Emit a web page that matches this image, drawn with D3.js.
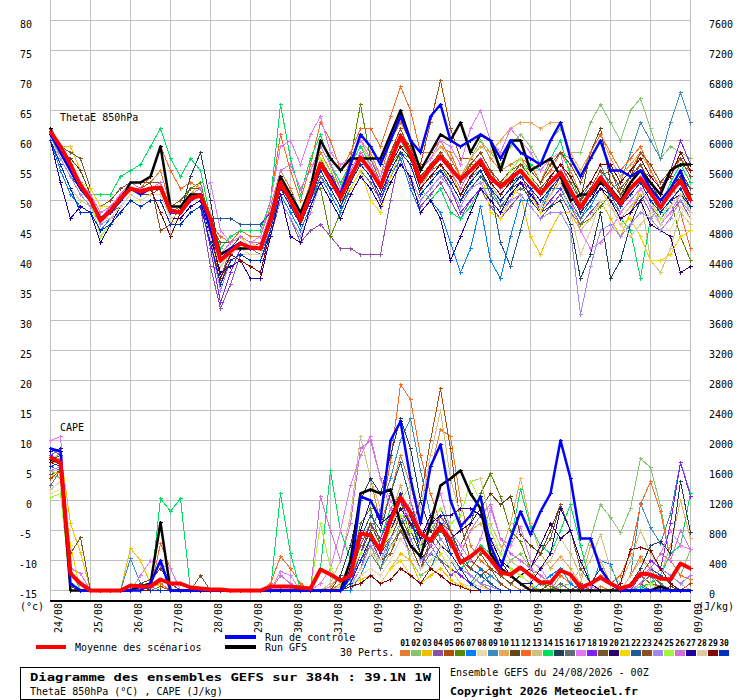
<!DOCTYPE html>
<html><head><meta charset="utf-8">
<script src="https://cdn.jsdelivr.net/npm/d3@7"></script>
<style>
body{margin:0;background:#fff;}
svg{display:block;font-family:"DejaVu Sans Mono",monospace;}
</style></head><body>
<svg id="c" width="740" height="700"></svg>
<script>
const dates = ["24/08","25/08","26/08","27/08","28/08","29/08","30/08","31/08","01/09","02/09","03/09","04/09","05/09","06/09","07/09","08/09","09/09"];
const thetaTicks = [-15,-10,-5,0,5,10,15,20,25,30,35,40,45,50,55,60,65,70,75,80];
const capeTicks = [0,400,800,1200,1600,2000,2400,2800,3200,3600,4000,4400,4800,5200,5600,6000,6400,6800,7200,7600];
const pertLabels = ["01","02","03","04","05","06","07","08","09","10","11","12","13","14","15","16","17","18","19","20","21","22","23","24","25","26","27","28","29","30"];
const pertColors = ["#e67e30","#86c46e","#f0c000","#8c50a8","#b04c08","#588a00","#0080ff","#e8d8b0","#3c8cc0","#e8a858","#604818","#f86820","#d0c080","#00e060","#204058","#607078","#e078f8","#8020f8","#785828","#300070","#f0d800","#205898","#8c5020","#a088f0","#a0f838","#d070d8","#2000a0","#e0c8a0","#800808","#0030c0"];

const thetaMean = [61.5,59,56,52.5, 50.2,46.7,48.3,50.3, 52,51.5,52,52.2, 48.3,48,50.3,50.8, 47,40,41.5,42.8, 42.2,42,46.7,53, 50,46.7,51.2,56.2, 53.3,50.5,53.8,57.2, 55,52.3,56.7,60.7, 57.8,53.2,55.5,57.3, 55.3,53.5,55,56.7, 53.8,52.3,53.7,55, 53,51.2,53,54.7, 51.7,48.8,51.3,53.8, 51.7,49.5,52,53.7, 51.3,48.8,51.3,53.3, 50];
const thetaCtrl = [61,58,55,52, 50,47,48,50, 52,51,52,52, 48,48,50,51, 45,40,42,43, 42,42,47,53, 50,47,51,56, 54,51,56,61, 59,56,60,64, 60,58,64,66, 60,59,60,61, 60,57,60,58, 57,56,60,63, 57,54,57,60, 55,55,54,55, 52,50,52,55, 50];
const thetaGfs = [62,58,55,52, 50,47,48,50, 53,53,54,59, 49,49,51,51, 47,41,42,42, 42,42,47,54, 51,48,52,60, 57,55,57,57, 57,57,61,65, 60,55,58,61, 60,63,58,61, 60,55,60,60, 55,56,57,54, 50,51,51,53, 52,50,53,55, 53,51,55,56, 56];
const thetaPerts = [
[62,59,56,53, 51,48,49,51, 53,52,53,55, 49,50,52,52, 46,41,43,44, 43,44,49,55, 52,48,53,58, 55,52,57,60, 58,54,60,63, 60,55,57,59, 58,54,57,60, 57,55,56,57, 55,53,57,58, 55,51,53,56, 56,53,55,58, 55,52,54,57, 55],
[61,57,54,51, 49,46,47,49, 51,50,51,51, 47,47,49,50, 44,39,41,42, 41,41,46,52, 49,46,50,55, 52,49,53,56, 54,51,56,59, 57,52,55,58, 56,53,57,60, 58,56,59,61, 59,56,60,62, 58,58,63,66, 63,60,65,67, 62,57,59,58, 57],
[62,59,59,55, 51,48,49,50, 53,52,52,52, 47,48,51,53, 46,41,43,44, 42,42,48,54, 50,47,52,57, 54,50,56,59, 57,53,58,61, 59,54,56,58, 55,51,54,57, 53,50,52,51, 44,41,45,48, 48,45,47,50, 47,44,48,52, 49,46,48,50, 48],
[61,57,54,51, 49,46,47,48, 50,49,50,50, 46,46,48,49, 39,32,36,41, 40,40,44,50, 47,43,45,46, 44,42,42,41, 41,41,50,58, 53,49,51,53, 50,47,50,52, 49,47,49,51, 49,47,49,51, 48,46,48,50, 49,47,48,51, 48,46,48,50, 47],
[62,58,56,52, 50,47,48,51, 52,52,52,53, 48,48,50,51, 44,36,41,42, 42,43,47,53, 51,48,52,57, 55,51,54,58, 56,53,58,62, 58,56,63,70, 62,57,57,56, 55,52,53,55, 50,48,51,54, 52,48,51,54, 55,51,53,56, 52,49,53,56, 55],
[62,58,55,52, 50,47,48,50, 52,51,52,52, 48,49,52,53, 46,41,42,43, 42,42,47,53, 50,46,51,52, 44,48,57,66, 57,53,56,58, 57,53,55,56, 53,50,52,54, 52,50,52,53, 50,48,50,52, 49,46,47,49, 51,49,51,53, 51,48,50,44, 40],
[60,55,51,49, 48,45,47,49, 51,50,51,51, 47,47,49,50, 44,39,41,42, 41,41,45,51, 48,45,49,54, 51,48,52,55, 53,50,54,57, 52,48,50,48, 43,38,42,49, 40,37,44,50, 50,48,52,52, 49,47,49,52, 50,48,50,52, 49,47,49,51, 48],
[61,57,54,51, 49,45,46,48, 50,49,50,50, 46,47,49,50, 43,38,40,41, 41,41,46,52, 49,46,50,55, 52,49,53,56, 54,51,55,58, 56,52,54,56, 54,51,53,56, 53,51,53,54, 52,50,52,54, 51,47,50,52, 51,48,50,52, 50,46,45,49, 47],
[62,58,55,52, 50,47,48,50, 52,51,52,52, 48,48,50,51, 45,40,42,43, 42,42,47,53, 50,47,51,56, 53,50,54,57, 55,52,56,59, 57,52,54,56, 54,51,54,55, 52,49,50,53, 52,49,52,54, 53,50,53,56, 52,53,58,63, 60,57,63,68, 63],
[62,59,56,53, 51,48,49,51, 53,52,53,53, 49,49,51,52, 46,41,43,44, 43,43,48,54, 51,48,52,57, 54,51,55,58, 56,53,58,61, 59,55,57,59, 57,54,57,59, 58,60,62,63, 63,62,63,63, 58,55,58,61, 57,54,56,58, 55,52,55,57, 54],
[61,58,57,55, 51,48,49,50, 52,51,51,52, 48,48,50,51, 45,40,42,44, 43,43,48,54, 51,48,52,57, 54,51,55,58, 56,53,57,60, 58,54,56,58, 56,53,56,58, 55,53,55,56, 54,52,54,56, 54,50,58,62, 53,51,53,55, 52,50,52,54, 51],
[62,58,55,52, 50,47,48,50, 52,52,54,59, 55,52,53,52, 46,44,43,45, 44,44,50,61, 55,50,56,63, 60,55,58,62, 62,59,64,69, 65,58,58,60, 57,54,56,58, 55,53,55,57, 56,53,55,58, 57,54,58,61, 58,55,57,59, 55,52,54,48, 42],
[61,56,52,50, 49,46,47,49, 51,50,51,51, 47,47,49,50, 44,39,41,42, 41,41,46,52, 49,46,50,55, 52,49,53,56, 54,51,56,59, 57,52,54,56, 54,51,54,56, 53,50,52,53, 51,49,51,53, 50,45,47,50, 49,47,49,51, 40,38,42,48, 46],
[62,58,56,53, 51,51,51,54, 55,56,59,62, 57,54,57,55, 47,42,44,45, 45,45,50,66, 57,51,57,61, 56,53,56,59, 56,53,57,60, 57,52,50,52, 48,47,49,52, 52,50,52,55, 56,55,57,60, 54,50,52,55, 50,47,45,37, 47,49,53,56, 53],
[62,58,55,52, 50,47,48,50, 52,51,52,52, 48,48,54,58, 50,40,42,43, 42,42,47,53, 50,47,51,56, 53,50,54,57, 55,52,56,59, 57,52,54,56, 54,51,53,55, 52,50,52,53, 50,48,49,50, 46,37,41,48, 37,40,46,50, 52,50,52,54, 52],
[61,58,55,52, 50,47,48,49, 51,50,51,51, 47,48,50,51, 45,37,42,43, 42,41,46,52, 49,46,50,54, 52,49,52,55, 53,50,55,58, 56,51,53,55, 53,50,53,55, 51,49,51,52, 51,49,51,53, 50,47,50,53, 51,48,50,52, 49,47,50,52, 49],
[62,58,55,52, 50,47,49,51, 53,52,53,53, 49,49,51,52, 53,45,43,44, 43,44,50,59, 60,56,61,64, 58,56,57,60, 57,54,58,61, 59,55,57,60, 59,56,62,65, 60,58,62,60, 58,55,57,58, 50,45,42,43, 45,48,50,52, 49,46,48,51, 50],
[61,57,54,51, 49,46,47,49, 51,50,51,51, 47,47,49,50, 42,33,38,42, 41,41,46,52, 49,46,50,55, 52,49,53,56, 54,50,55,58, 56,51,53,55, 52,48,50,52, 50,48,51,53, 52,48,50,52, 51,48,50,53, 52,50,53,55, 54,52,55,60, 56],
[62,59,58,57, 52,49,50,52, 53,53,53,53, 49,50,52,52, 46,43,43,44, 43,42,47,53, 50,47,52,57, 54,51,55,58, 56,53,57,60, 58,53,55,57, 55,52,55,57, 54,52,54,56, 55,53,56,58, 56,53,57,60, 55,52,54,56, 53,50,52,55, 52],
[61,58,55,52, 50,47,48,50, 52,51,52,52, 48,48,50,51, 45,40,42,43, 42,42,47,53, 50,47,51,56, 53,50,54,57, 55,52,56,59, 57,52,54,56, 54,51,54,56, 53,51,53,54, 52,50,52,54, 51,48,50,52, 50,47,48,50, 46,45,44,38, 39],
[62,58,56,53, 52,49,49,51, 53,52,52,53, 49,49,51,52, 46,41,43,44, 43,42,47,53, 50,47,51,56, 53,50,52,55, 50,48,54,58, 56,51,53,55, 53,50,53,55, 48,47,50,53, 51,48,51,53, 51,48,50,52, 49,46,47,44, 40,40,41,44, 45],
[61,57,54,52, 50,47,48,50, 52,51,52,52, 48,48,50,51, 47,47,47,46, 46,46,48,53, 50,47,51,56, 53,50,54,57, 55,52,56,59, 57,52,54,55, 53,50,52,54, 52,43,39,45, 52,50,52,54, 52,49,51,53, 52,50,52,54, 51,49,51,53, 50],
[62,58,56,53, 51,48,49,51, 53,52,53,45, 46,49,51,52, 46,41,43,44, 43,43,48,54, 51,48,52,57, 54,51,55,58, 56,53,58,61, 59,54,56,58, 56,53,56,58, 55,53,55,56, 54,52,54,56, 53,50,52,55, 53,51,54,58, 56,53,55,57, 54],
[61,57,54,51, 49,46,47,48, 50,49,50,50, 46,46,48,49, 43,35,40,41, 40,40,45,50, 47,44,48,53, 50,47,51,54, 52,49,53,56, 54,50,52,54, 52,49,52,53, 50,48,50,51, 49,47,48,48, 45,31,39,45, 46,44,46,48, 47,45,47,50, 48],
[61,58,55,52, 50,44,46,48, 50,50,51,51, 47,47,49,50, 44,39,41,42, 41,41,46,52, 50,47,52,57, 55,52,55,58, 56,53,57,60, 58,53,55,57, 55,52,55,57, 54,52,55,57, 54,51,52,54, 51,48,50,53, 51,49,51,53, 50,47,50,52, 48],
[62,59,56,53, 51,48,49,51, 53,52,52,53, 49,49,51,52, 46,41,43,44, 43,43,48,55, 56,52,55,59, 56,52,55,58, 56,53,57,60, 58,53,55,57, 55,52,55,57, 54,52,54,55, 53,51,53,55, 52,49,51,54, 52,50,52,54, 51,49,51,53, 50],
[60,53,47,49, 48,43,46,49, 51,50,51,51, 47,47,49,50, 44,38,39,40, 37,37,44,51, 44,43,49,53, 50,47,51,54, 52,49,53,56, 54,48,50,47, 40,44,48,52, 50,48,51,53, 51,49,51,53, 51,48,50,52, 51,49,51,53, 50,48,50,51, 49],
[61,58,55,52, 50,47,47,49, 51,50,51,51, 47,48,50,51, 44,39,41,42, 41,41,46,52, 49,46,50,55, 52,49,53,56, 54,51,55,58, 56,51,53,55, 53,50,53,55, 52,50,52,54, 52,49,51,53, 48,41,45,50, 49,46,44,46, 48,46,49,51, 48],
[61,58,55,52, 50,47,48,50, 52,51,52,48, 44,48,50,51, 45,37,41,40, 39,38,45,52, 50,47,51,56, 53,50,54,57, 55,52,56,59, 57,52,54,56, 54,51,54,56, 53,51,53,55, 53,51,54,56, 54,51,53,56, 56,53,55,57, 54,52,54,58, 55],
[60,56,52,48, 48,45,46,48, 50,49,50,50, 46,46,48,49, 43,36,40,41, 40,40,45,52, 49,46,50,55, 52,49,53,56, 54,51,55,58, 56,51,53,55, 53,50,53,55, 52,50,52,54, 52,50,52,54, 51,48,50,53, 51,49,51,53, 50,48,50,52, 49]
];

const capeMean = [1770,1700,230,90, 0,0,0,0, 70,60,50,150, 100,90,40,25, 10,10,0,0, 0,0,50,50, 50,40,25,280, 220,130,200,760, 740,530,930,1240, 1040,760,670,850, 670,380,450,560, 420,240,220,310, 200,110,110,270, 220,40,90,180, 90,25,70,230, 210,160,150,360, 290];
const capeCtrl = [1900,1850,100,0, 0,0,0,0, 0,0,100,400, 0,0,0,0, 0,0,0,0, 0,0,0,0, 0,0,0,0, 0,0,200,1250, 1200,950,2000,2250, 1500,900,1650,1950, 1200,850,1000,1250, 600,300,700,1050, 750,1050,1300,2000, 1500,700,700,300, 100,0,0,0, 0,0,0,0, 0];
const capeGfs = [1750,1700,0,0, 0,0,0,0, 0,50,100,910, 0,0,0,0, 0,0,0,0, 0,0,0,0, 0,0,0,0, 0,0,400,1300, 1350,1300,1350,900, 600,450,900,1400, 1500,1600,1300,1100, 500,300,200,100, 0,0,0,0, 0,0,0,0, 0,0,0,0, 0,50,0,0, 0];
const capePerts = [
[1800,1750,100,0, 0,0,0,0, 0,0,50,100, 0,0,0,0, 0,0,0,0, 0,0,0,0, 0,0,0,0, 50,200,600,1200, 1500,900,1300,1800, 1400,900,1600,2150, 2050,1200,600,400, 300,200,100,0, 50,0,0,200, 100,0,0,50, 0,0,200,450, 300,100,0,0, 0],
[1600,1500,0,0, 0,0,0,0, 0,0,0,0, 0,0,0,0, 0,0,0,0, 0,0,0,0, 0,0,0,0, 0,0,100,400, 600,300,500,900, 400,200,300,500, 300,100,50,200, 300,200,400,500, 300,100,0,50, 100,300,700,1150, 970,780,1100,1760, 1640,1130,400,200, 550],
[1700,1850,900,510, 0,0,0,0, 560,400,100,50, 0,0,0,0, 0,0,0,0, 0,0,0,0, 0,0,0,0, 0,50,100,150, 200,100,300,500, 400,100,200,300, 150,50,0,0, 0,0,0,0, 0,0,0,0, 0,0,0,0, 0,0,0,0, 0,0,0,0, 0],
[1900,1800,50,0, 0,0,0,0, 0,0,0,0, 0,0,0,0, 0,0,0,0, 0,0,0,0, 0,0,0,0, 0,0,100,300, 700,400,600,800, 500,300,600,400, 200,300,100,50, 0,0,0,0, 0,0,0,0, 0,0,50,0, 0,0,0,100, 200,0,0,0, 0],
[1500,1600,0,0, 0,0,0,0, 0,50,0,50, 0,0,0,0, 0,0,0,0, 0,0,0,0, 0,0,0,0, 0,0,200,500, 700,500,900,1300, 800,1200,2000,2700, 1900,900,400,300, 200,100,0,0, 0,0,100,300, 200,0,0,0, 0,0,0,200, 100,50,0,0, 100],
[1700,1650,100,0, 0,0,0,0, 0,0,0,0, 0,0,0,0, 0,0,0,0, 0,0,0,0, 0,0,0,0, 0,100,300,900, 1100,600,800,1200, 700,400,900,1100, 800,600,900,1300, 1560,1250,800,650, 300,100,50,0, 0,0,0,0, 0,0,0,0, 0,0,0,0, 0],
[1650,1600,0,0, 0,0,0,0, 0,100,0,0, 0,0,0,0, 0,0,0,0, 0,0,0,0, 0,0,0,0, 0,0,0,200, 500,300,700,900, 1000,500,300,600, 400,200,100,300, 100,0,0,0, 0,100,200,300, 100,0,0,400, 350,0,0,50, 0,0,0,0, 0],
[1300,1350,0,0, 0,0,0,0, 0,0,0,0, 0,0,0,0, 0,0,0,0, 0,0,0,0, 0,0,0,0, 0,0,50,200, 300,200,400,700, 500,300,500,400, 300,100,50,0, 0,0,0,0, 0,0,0,0, 0,0,0,0, 0,0,0,0, 0,0,50,0, 0],
[1800,1900,100,0, 0,0,0,0, 430,100,50,0, 0,0,0,0, 0,0,0,0, 0,0,0,0, 0,0,0,0, 0,0,150,500, 800,1100,1500,2000, 2300,1600,1000,700, 500,300,200,100, 200,100,0,0, 0,0,0,0, 0,0,0,0, 0,0,200,1160, 840,630,1030,1700, 1300],
[1700,1700,0,0, 0,0,0,0, 0,0,0,0, 0,0,0,0, 0,0,0,0, 0,0,0,0, 0,0,0,0, 0,100,400,700, 900,600,1000,1400, 900,600,800,1000, 700,500,800,900, 700,500,900,1500, 900,500,300,450, 300,100,600,400, 100,0,200,400, 300,200,600,1200, 700],
[1600,1550,50,0, 0,0,0,0, 50,100,150,300, 100,0,0,0, 0,0,0,0, 0,0,0,0, 0,0,0,0, 0,0,100,500, 800,500,700,1000, 800,500,700,900, 800,600,900,1100, 1300,1150,1250,750, 600,500,800,1150, 800,300,100,0, 0,0,0,0, 0,0,50,0, 0],
[1750,1800,0,0, 0,0,0,0, 0,0,0,630, 300,0,0,0, 0,0,0,0, 0,0,100,450, 300,100,0,0, 0,100,300,800, 1200,1000,1700,2750, 2550,1800,1300,900, 600,400,200,100, 0,0,0,0, 0,0,0,0, 0,0,50,200, 100,200,500,1150, 1450,1050,400,200, 150],
[1550,1500,0,0, 0,0,0,0, 0,0,0,0, 0,0,0,0, 0,0,0,0, 0,0,0,0, 0,0,0,0, 100,400,1000,2050, 1500,1100,800,1200, 1400,1100,1800,2400, 1500,1000,1450,1500, 900,600,400,300, 200,300,400,700, 500,200,400,750, 300,100,400,800, 500,300,200,100, 0],
[1700,1750,300,0, 0,0,0,0, 0,0,0,1230, 1060,1230,0,0, 0,0,0,0, 0,0,0,1300, 500,0,0,300, 1600,800,400,600, 900,700,1100,1300, 1000,600,900,700, 500,300,400,600, 500,300,650,1350, 850,600,500,800, 1150,600,100,0, 0,0,0,50, 100,200,500,600, 1300],
[1800,1700,0,0, 0,0,0,0, 0,0,0,0, 0,0,0,200, 0,0,0,0, 0,0,0,0, 0,0,0,0, 0,200,600,1200, 1500,1300,1800,2300, 1900,1200,800,600, 500,300,200,100, 50,0,0,0, 0,0,0,0, 0,0,100,300, 100,0,100,300, 600,650,500,1450, 780],
[1400,1600,0,0, 0,0,0,0, 0,50,0,0, 0,0,0,0, 0,0,0,0, 0,0,0,0, 0,0,0,0, 0,0,100,300, 500,300,600,800, 600,300,500,400, 300,200,100,0, 0,0,0,0, 0,0,0,100, 0,0,0,0, 0,0,0,100, 200,100,0,0, 0],
[2000,2050,300,230, 0,0,0,0, 0,200,400,350, 300,0,0,0, 0,0,0,0, 0,0,0,250, 200,0,0,100, 300,800,1400,1800, 2050,1500,1200,1000, 800,600,1000,1300, 800,600,400,700, 1100,700,600,850, 400,300,100,0, 0,0,50,0, 0,0,100,200, 300,500,800,600, 550],
[1800,1700,0,0, 0,0,0,0, 0,0,0,0, 0,0,0,0, 0,0,0,0, 0,0,0,0, 0,0,0,0, 0,0,100,500, 900,700,1000,1200, 900,600,700,500, 300,200,100,50, 0,0,0,0, 0,0,0,0, 0,0,0,0, 0,0,0,200, 400,300,900,1700, 1250],
[1550,1600,500,710, 0,0,0,0, 0,0,0,0, 0,0,0,0, 0,0,0,0, 0,0,0,0, 0,0,0,0, 0,0,200,600, 900,600,700,1000, 700,400,600,800, 600,400,300,200, 300,200,100,200, 300,500,700,1150, 800,300,100,0, 0,0,0,0, 0,0,0,0, 0],
[1700,1650,0,0, 0,0,0,0, 0,0,0,0, 0,0,0,0, 0,0,0,0, 0,0,0,0, 0,0,0,0, 0,0,100,400, 700,500,800,1100, 900,700,1000,900, 700,800,900,1100, 700,400,300,200, 300,600,900,700, 800,400,100,0, 0,0,0,0, 0,0,0,0, 0],
[1600,1550,600,0, 0,0,0,0, 0,0,0,0, 0,0,0,0, 0,0,0,0, 0,0,0,0, 0,0,0,0, 0,0,50,100, 200,100,300,400, 200,100,300,500, 300,100,0,0, 0,0,0,0, 0,0,0,0, 0,0,0,0, 0,0,0,0, 0,0,0,0, 0],
[1750,1800,0,0, 0,0,0,0, 0,100,0,0, 0,0,0,0, 0,0,0,0, 0,0,0,0, 0,0,0,0, 0,0,200,700, 1000,800,1300,1700, 1200,700,900,1100, 800,500,300,200, 100,0,0,0, 0,0,0,0, 0,0,0,0, 0,0,0,100, 300,200,100,0, 0],
[1650,1700,0,0, 0,0,0,0, 0,0,0,0, 0,0,0,200, 0,0,0,0, 0,0,0,0, 0,0,0,0, 0,0,100,400, 600,400,500,800, 600,300,700,1000, 800,400,300,500, 300,100,0,0, 0,0,0,0, 0,100,0,0, 0,0,0,100, 0,0,0,0, 0],
[1600,1650,0,0, 0,0,0,0, 0,0,0,0, 0,0,0,0, 0,0,0,0, 0,0,0,0, 0,0,0,0, 0,0,50,300, 600,400,700,900, 700,400,500,700, 500,300,200,100, 50,0,0,0, 0,0,0,0, 0,0,0,0, 0,0,0,0, 100,300,200,100, 200],
[1240,1300,0,0, 0,0,0,0, 0,0,0,0, 0,0,0,0, 0,0,0,0, 0,0,0,0, 0,0,0,900, 300,100,200,500, 700,500,800,1000, 800,600,900,1100, 900,1000,1450,1200, 800,500,300,200, 100,0,0,0, 0,0,0,0, 0,0,0,0, 100,0,0,0, 0],
[1900,1850,0,0, 0,0,0,0, 0,0,0,0, 0,0,0,0, 0,0,0,0, 0,0,0,200, 100,0,0,1250, 800,400,900,1900, 2000,1500,1100,900, 1200,800,600,1000, 700,500,800,1000, 1150,700,500,400, 300,200,100,0, 0,0,0,0, 0,0,0,100, 300,500,400,800, 550],
[1850,1900,0,0, 0,0,0,0, 0,0,0,0, 0,0,0,0, 0,0,0,0, 0,0,0,0, 0,0,0,0, 0,0,300,800, 1200,900,1000,1300, 1000,700,900,1000, 1000,1100,1100,1000, 700,400,200,100, 100,300,500,1100, 800,400,100,0, 0,0,0,0, 0,0,0,0, 0],
[1350,1450,0,0, 0,0,0,0, 0,0,0,0, 0,0,0,0, 0,0,0,0, 0,0,0,0, 0,0,0,0, 0,0,100,300, 500,400,600,700, 500,300,400,600, 400,300,100,50, 0,0,0,0, 0,0,0,0, 0,0,0,0, 0,0,0,0, 0,0,0,0, 0],
[1700,1650,0,0, 0,0,0,0, 0,0,0,0, 0,0,0,0, 0,0,0,0, 0,0,0,0, 0,0,0,0, 0,0,50,100, 200,100,150,300, 200,100,300,200, 100,50,0,0, 0,0,0,0, 0,0,0,0, 0,0,0,0, 0,100,550,580, 530,300,100,0, 0],
[1650,1700,0,0, 0,0,0,0, 0,50,0,0, 0,0,0,0, 0,0,0,0, 0,0,0,0, 0,0,0,0, 0,0,100,400, 700,500,900,1300, 1000,500,700,900, 500,300,100,0, 0,0,0,0, 0,0,0,0, 0,0,0,0, 0,0,0,0, 0,0,0,0, 0]
];

const svg = d3.select("#c");
const FONT = "'DejaVu Sans Mono', monospace";
svg.append("rect").attr("width",740).attr("height",700).attr("fill","#fff");

const nSteps = thetaMean.length - 1;
const x = d3.scaleLinear().domain([0, nSteps]).range([50, 690]);
const yT = d3.scaleLinear().domain([-15, 80]).range([590, 20]);
const yC = d3.scaleLinear().domain([0, 7600]).range([590, 20]);
const dayIdx = dates.map((d, i) => i * 4);

// grid
const grid = svg.append("g").attr("stroke", "#c0c0c0").attr("stroke-width", 1).attr("shape-rendering", "crispEdges");
grid.selectAll("line.h").data(thetaTicks).join("line")
  .attr("x1", x(0)).attr("x2", x(nSteps) + 1)
  .attr("y1", d => Math.round(yT(d)) + 0.5).attr("y2", d => Math.round(yT(d)) + 0.5);
grid.selectAll("line.v").data(dayIdx).join("line")
  .attr("x1", d => x(d) + 0.5).attr("x2", d => x(d) + 0.5)
  .attr("y1", 0).attr("y2", 600);

// series
const plot = svg.append("g");
function drawSeries(data, yScale, color, width, crisp) {
  const line = d3.line().x((d, i) => x(i) + 0.5).y(d => Math.round(yScale(d)) + 0.5);
  plot.append("path").attr("d", line(data)).attr("fill", "none")
    .attr("stroke", color).attr("stroke-width", width).attr("stroke-linejoin", "round")
    .attr("shape-rendering", crisp ? "crispEdges" : "auto");
  const mk = data.map((d, i) => {
    const px = x(i) + 0.5, py = Math.round(yScale(d)) + 0.5;
    return `M${px - 2},${py}h4M${px},${py - 2}v4`;
  }).join("");
  plot.append("path").attr("d", mk).attr("fill", "none").attr("stroke", color)
    .attr("stroke-width", 1).attr("shape-rendering", "crispEdges");
}
capePerts.forEach((s, k) => drawSeries(s, yC, pertColors[k], 1, true));
thetaPerts.forEach((s, k) => drawSeries(s, yT, pertColors[k], 1, true));
drawSeries(capeGfs, yC, "#000000", 2.5, false);
drawSeries(thetaGfs, yT, "#000000", 2.5, false);
drawSeries(capeCtrl, yC, "#0000ff", 2.5, false);
drawSeries(thetaCtrl, yT, "#0000ff", 2.5, false);
drawSeries(capeMean, yC, "#ff0000", 4, false);
drawSeries(thetaMean, yT, "#ff0000", 4, false);

// x axis black line
svg.append("rect").attr("x", x(0)).attr("y", 600).attr("width", x(nSteps) - x(0) + 1).attr("height", 2).attr("fill", "#000");

// axes
const gl = svg.append("g").call(d3.axisLeft(yT).tickValues(thetaTicks).tickSize(0).tickFormat(d => String(d)));
gl.select(".domain").remove();
gl.attr("font-family", FONT).attr("font-size", 10);
gl.selectAll("text").attr("fill", "#000").attr("dy", 7.5)
  .attr("x", d => d < 0 ? 19 : 32).attr("text-anchor", d => d < 0 ? "start" : "end");

const gr = svg.append("g").attr("transform", "translate(709,0)")
  .call(d3.axisRight(yC).tickValues(capeTicks).tickSize(0).tickFormat(d => String(d)));
gr.select(".domain").remove();
gr.attr("font-family", FONT).attr("font-size", 10);
gr.selectAll("text").attr("fill", "#000").attr("dy", 7.5).attr("x", 0).attr("text-anchor", "start");

const gb = svg.append("g").attr("transform", "translate(0,600)")
  .call(d3.axisBottom(x).tickValues(dayIdx).tickSize(0).tickFormat((d, i) => dates[i]));
gb.select(".domain").remove();
gb.attr("font-family", FONT).attr("font-size", 10);
gb.selectAll("text").attr("fill", "#000").attr("transform", "rotate(-90)")
  .attr("x", -3).attr("y", 11).attr("dy", 0).attr("text-anchor", "end");

function txt(s, px, py, opts = {}) {
  const t = svg.append("text").attr("x", px).attr("y", py).text(s)
    .attr("font-family", FONT).attr("font-size", opts.size || 10).attr("fill", "#000");
  if (opts.bold) t.attr("font-weight", "bold");
  if (opts.anchor) t.attr("text-anchor", opts.anchor);
  if (opts.len) t.attr("textLength", opts.len).attr("lengthAdjust", "spacingAndGlyphs");
  return t;
}
txt("ThetaE 850hPa", 60, 121);
txt("CAPE", 60, 431);
txt("(°c)", 20, 610);
txt("(J/kg)", 698, 610);

// legend
svg.append("rect").attr("x", 36).attr("y", 645).attr("width", 30).attr("height", 4).attr("fill", "#ff0000");
txt("Moyenne des scénarios", 75, 651);
svg.append("rect").attr("x", 225).attr("y", 635).attr("width", 31).attr("height", 4).attr("fill", "#0000ff");
txt("Run de contrôle", 265, 641);
svg.append("rect").attr("x", 225).attr("y", 645).attr("width", 31).attr("height", 4).attr("fill", "#000");
txt("Run GFS", 265, 651);
txt("30 Perts.", 340, 656);

const lg = svg.append("g");
lg.selectAll("rect").data(pertColors).join("rect")
  .attr("x", (d, i) => 400 + i * 11).attr("y", 650).attr("width", 10).attr("height", 6).attr("fill", d => d);
lg.selectAll("text").data(pertLabels).join("text")
  .attr("x", (d, i) => 405 + i * 11).attr("y", 646).attr("text-anchor", "middle")
  .attr("font-family", FONT).attr("font-size", 8).attr("font-weight", "bold").text(d => d);

// footer
svg.append("rect").attr("x", 20.5).attr("y", 667.5).attr("width", 419).attr("height", 32).attr("fill", "none").attr("stroke", "#000");
txt("Diagramme des ensembles GEFS sur 384h : 39.1N 1W", 30, 681, {bold: true, size: 11, len: 401});
txt("ThetaE 850hPa (°C) , CAPE (J/kg)", 30, 695);
txt("Ensemble GEFS du 24/08/2026 - 00Z", 450, 676);
txt("Copyright 2026 Meteociel.fr", 450, 695, {bold: true, size: 11, len: 188});
</script>
</body></html>
